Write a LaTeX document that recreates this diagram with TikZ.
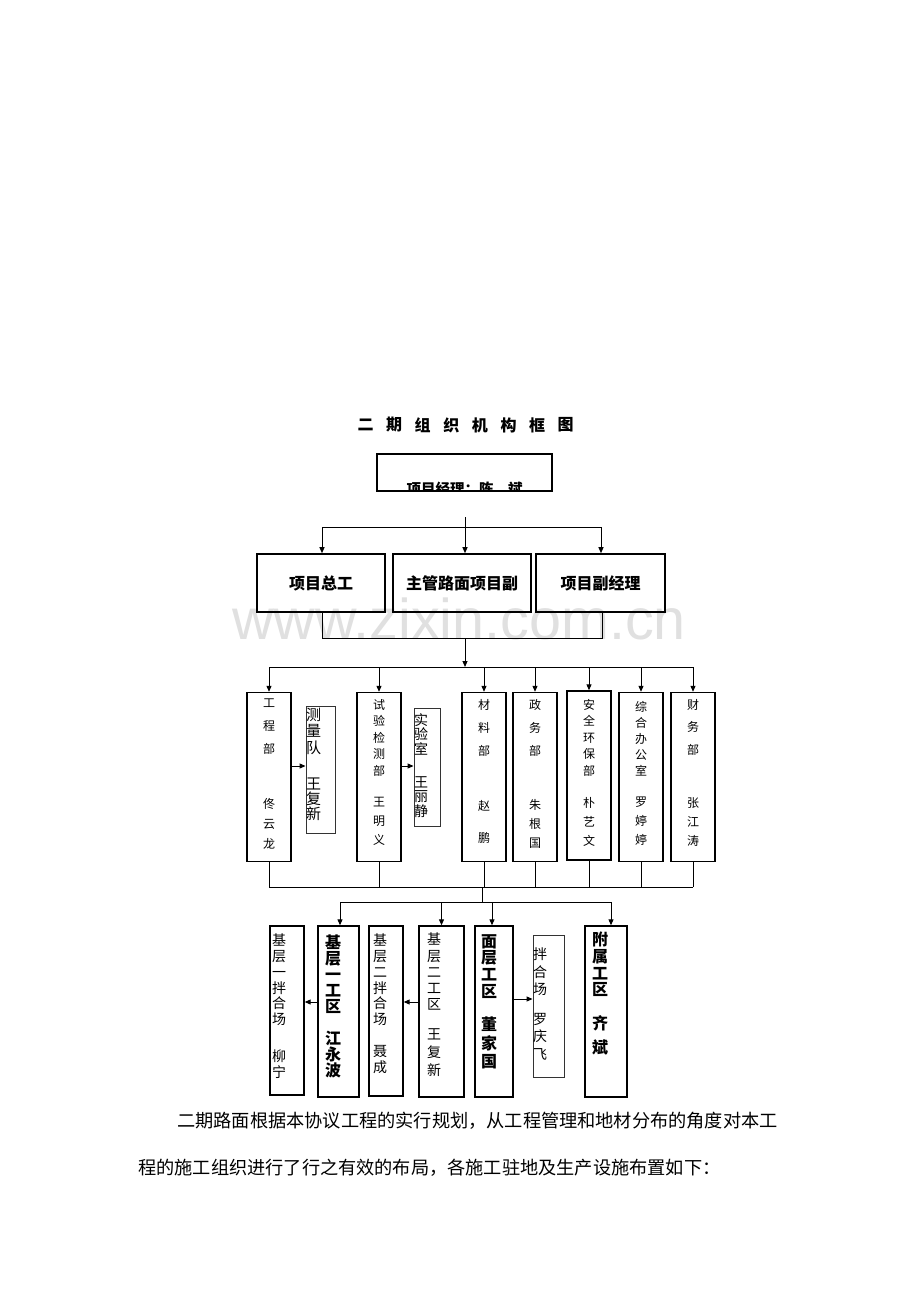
\documentclass[tikz,border=0pt]{standalone}
\usepackage{fontspec}
\newfontfamily\cjk{Noto Sans CJK SC}
\newfontfamily\wmfont{Liberation Sans}
\usetikzlibrary{arrows.meta}
\begin{document}
\begin{tikzpicture}[x=1pt,y=-1pt,
  box/.style={draw, line width=1.4pt, inner sep=0},
  thinbox/.style={draw=black!80, line width=0.9pt, inner sep=0},
  conn/.style={line width=1pt},
  arr/.style={line width=1pt, -{Triangle[length=6pt,width=5pt]}},
  vt/.style n args={2}{inner sep=0, anchor=north, align=center, font=\cjk\fontsize{#1}{#2}\selectfont},
  vtb/.style n args={2}{inner sep=0, anchor=north, align=center, font=\cjk\bfseries\fontsize{#1}{#2}\selectfont},
  head/.style={font=\cjk\bfseries\fontsize{16}{16}\selectfont},
]
\useasboundingbox (0,0) rectangle (920,1302);
\fill[white] (0,0) rectangle (920,1302);

% watermark
\node[inner sep=0, anchor=base west, text=black!12, font=\wmfont\fontsize{57.5}{57.5}\selectfont] (wm) at (232,639) {www.zixin.com.cn};

% title
\foreach \c [count=\i from 0] in {二,期,组,织,机,构,框,图}
  \node[inner sep=0, font=\cjk\bfseries\fontsize{16}{16}\selectfont] (ti\i) at (365.5+28.6*\i,425) {\c};

% top box
\node[draw, line width=1.8pt, minimum width=175pt, minimum height=37pt, inner sep=0] (pm) at (464.5,472.5) {};
\begin{scope}
  \clip (378,455) rectangle (551,490.5);
  \node[inner sep=0, font=\cjk\bfseries\fontsize{14.5}{14.5}\selectfont] (pmt) at (464.5,489) {项目经理：陈　斌};
\end{scope}

% second level
\node[box, line width=1.6pt, minimum width=128pt, minimum height=58pt, head] (zg) at (321,583) {项目总工};
\node[box, line width=1.6pt, minimum width=138pt, minimum height=58pt, head] (zm) at (462,583) {主管路面项目副};
\node[box, line width=1.6pt, minimum width=129pt, minimum height=58pt, head] (fj) at (600.5,583) {项目副经理};

% third level boxes
\foreach \n/\x in {b1/269,b2/379,b3/484,b4/535,b6/641,b7/693}
  \node[box, minimum width=44pt, minimum height=169pt] (\n) at (\x,777) {};
\node[box, minimum width=44pt, minimum height=169pt] (b5) at (589,775.5) {};
\node[thinbox, minimum width=29pt, minimum height=127pt] (s1) at (320.5,769.5) {};
\node[thinbox, minimum width=26pt, minimum height=118pt] (s2) at (427,767) {};

\node[vt={12}{23}] (b1a) at (269,699) {工\\程\\部};
\node[vt={12}{20}] (b1b) at (269,798) {佟\\云\\龙};
\node[vt={12}{16.5}] (b2a) at (379,699) {试\\验\\检\\测\\部};
\node[vt={12}{19}] (b2b) at (379,797) {王\\明\\义};
\node[vt={12}{23}] (b3a) at (484,699) {材\\料\\部};
\node[vt={12}{32}] (b3b) at (484,800) {赵\\鹏};
\node[vt={12}{23}] (b4a) at (535,699) {政\\务\\部};
\node[vt={12}{19}] (b4b) at (535,799) {朱\\根\\国};
\node[vt={12}{16.5}] (b5a) at (589,699) {安\\全\\环\\保\\部};
\node[vt={12}{19}] (b5b) at (589,797) {朴\\艺\\文};
\node[vt={12}{16}] (b6a) at (641,701) {综\\合\\办\\公\\室};
\node[vt={12}{19}] (b6b) at (641,797) {罗\\婷\\婷};
\node[vt={12}{22.5}] (b7a) at (693,699) {财\\务\\部};
\node[vt={12}{19}] (b7b) at (693,797) {张\\江\\涛};

\node[vt={15}{16.5}] (s1a) at (313.5,707.5) {测\\量\\队};
\node[vt={15}{15}] (s1b) at (313.5,777.5) {王\\复\\新};
\node[vt={14}{14.5}] (s2a) at (421,713) {实\\验\\室};
\node[vt={14}{14.5}] (s2b) at (421,776) {王\\丽\\静};

% bottom level boxes
\node[box, minimum width=34pt, minimum height=169pt] (l1) at (287,1010.5) {};
\node[box, minimum width=41pt, minimum height=171pt] (l2) at (338.5,1011.5) {};
\node[box, minimum width=34pt, minimum height=170pt] (l3) at (386,1011) {};
\node[box, minimum width=45pt, minimum height=171pt] (l4) at (441.5,1011.5) {};
\node[box, minimum width=38pt, minimum height=171pt] (l5) at (494,1011.5) {};
\node[thinbox, minimum width=31pt, minimum height=142pt] (l6) at (548.5,1006) {};
\node[box, minimum width=42pt, minimum height=171pt] (l7) at (606,1011.5) {};

\node[vt={14}{15.7}] (l1a) at (279,934) {基\\层\\一\\拌\\合\\场};
\node[vt={14}{16}] (l1b) at (279,1050) {柳\\宁};
\node[vtb={16}{16}] (l2a) at (333,935) {基\\层\\一\\工\\区};
\node[vtb={16}{16}] (l2b) at (333,1031) {江\\永\\波};
\node[vt={14}{15.7}] (l3a) at (380,934) {基\\层\\二\\拌\\合\\场};
\node[vt={14}{16}] (l3b) at (380,1045) {聂\\成};
\node[vt={14}{16.2}] (l4a) at (434,933) {基\\层\\二\\工\\区};
\node[vt={14}{18}] (l4b) at (434,1028) {王\\复\\新};
\node[vtb={16}{16.7}] (l5a) at (489,934) {面\\层\\工\\区};
\node[vtb={16}{18.5}] (l5b) at (489,1017) {董\\家\\国};
\node[vt={14}{17.5}] (l6a) at (540,948) {拌\\合\\场};
\node[vt={14}{17.5}] (l6b) at (540,1013) {罗\\庆\\飞};
\node[vtb={16}{16.7}] (l7a) at (600,932) {附\\属\\工\\区};
\node[vtb={16}{24}] (l7b) at (600,1015) {齐\\斌};

% connectors
\coordinate (t0) at (465,517);
\coordinate (t1) at (465,527);
\coordinate (t2) at (465,638);
\coordinate (t3) at (465,667);
\coordinate (t4) at (482,887);
\coordinate (t5) at (482,902);

\draw[arr] (t0) -- (t0 |- zm.north);
\draw[conn] ([xshift=1pt]t1 -| zg.north) -- ([xshift=0.5pt]t1 -| fj.north);
\draw[arr] ([xshift=1pt]zg.north |- t1) -- ([xshift=1pt]zg.north);
\draw[arr] ([xshift=0.5pt]fj.north |- t1) -- ([xshift=0.5pt]fj.north);
\draw[conn] ([xshift=1pt]zg.south) -- ([xshift=1pt]zg.south |- t2) -- ([xshift=2pt]fj.south |- t2) -- ([xshift=2pt]fj.south);
\draw[arr] (t2) -- (t3);
\draw[conn] (t3 -| b1.north) -- (t3 -| b7.north);
\foreach \b in {b1,b2,b3,b4,b5,b6,b7}
  \draw[arr] (t3 -| \b.north) -- (\b.north);
\draw[conn] (b1.south |- t4) -- (b7.south |- t4);
\foreach \b in {b1,b2,b3,b4,b5,b6,b7}
  \draw[conn] (\b.south) -- (\b.south |- t4);
\draw[conn] (t4) -- (t5);

\coordinate (a1) at ([yshift=3.5pt]s1.west);
\draw[arr] (a1 -| b1.east) -- (a1);
\coordinate (a2) at ([yshift=1pt]s2.west);
\draw[arr] (a2 -| b2.east) -- (a2);

\coordinate (u2) at ([xshift=1.5pt]l2.north);
\coordinate (u4) at (l4.north);
\coordinate (u5) at ([xshift=-2pt]l5.north);
\coordinate (u7) at ([xshift=5pt]l7.north);
\draw[conn] (t5 -| u2) -- (t5 -| u7);
\foreach \u in {u2,u4,u5,u7}
  \draw[arr] (t5 -| \u) -- (\u);

\coordinate (a3) at ([yshift=9.5pt]l2.west);
\draw[arr] (a3) -- (a3 -| l1.east);
\coordinate (a4) at ([yshift=9.5pt]l4.west);
\draw[arr] (a4) -- (a4 -| l3.east);
\coordinate (a5) at ([yshift=12.5pt]l5.east);
\draw[arr] (a5) -- (a5 -| l6.west);

% paragraph
\node[inner sep=0, anchor=west, font=\cjk\fontsize{18.2}{18.2}\selectfont] (p1) at (177,1121) {二期路面根据本协议工程的实行规划，从工程管理和地材分布的角度对本工};
\node[inner sep=0, anchor=west, font=\cjk\fontsize{18.2}{18.2}\selectfont] (p2) at (138,1168) {程的施工组织进行了行之有效的布局，各施工驻地及生产设施布置如下：};
\end{tikzpicture}
\end{document}
